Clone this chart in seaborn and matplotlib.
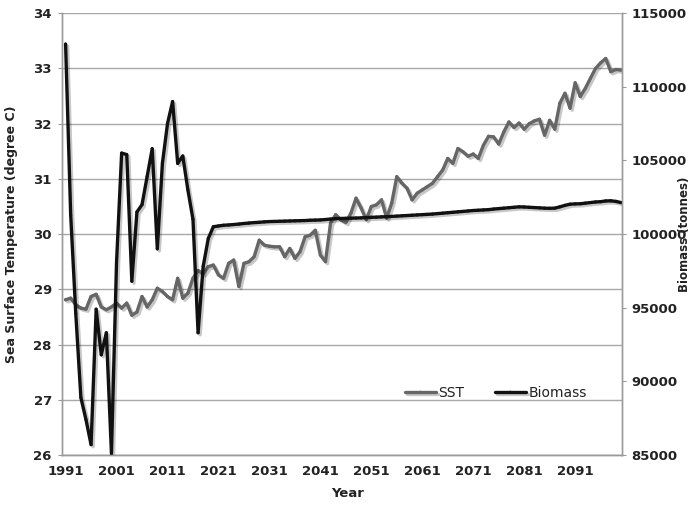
import numpy as np
import pandas as pd
import matplotlib
matplotlib.use("Agg")
import matplotlib.pyplot as plt
import matplotlib.patheffects as pe
from matplotlib.ticker import MultipleLocator, FixedLocator
import seaborn as sns

years = list(range(1991, 2101))

sst = [
    28.81, 28.84, 28.72, 28.66, 28.64, 28.87, 28.91, 28.68, 28.63, 28.68,
    28.75, 28.66, 28.75, 28.53, 28.59, 28.87, 28.68, 28.81, 29.02, 28.96,
    28.87, 28.81, 29.20, 28.84, 28.93, 29.20, 29.34, 29.28, 29.41, 29.44,
    29.26, 29.20, 29.47, 29.53, 29.05, 29.47, 29.50, 29.59, 29.89, 29.80,
    29.78, 29.77, 29.77, 29.59, 29.74, 29.56, 29.68, 29.95, 29.98, 30.07,
    29.62, 29.50, 30.20, 30.35, 30.26, 30.21, 30.38, 30.65, 30.47, 30.26,
    30.50, 30.53, 30.62, 30.29, 30.56, 31.04, 30.92, 30.83, 30.62, 30.74,
    30.80, 30.86, 30.92, 31.04, 31.16, 31.37, 31.28, 31.55, 31.49, 31.41,
    31.45, 31.37, 31.61, 31.77, 31.76, 31.63, 31.85, 32.03, 31.93, 32.01,
    31.90, 32.00, 32.05, 32.08, 31.79, 32.06, 31.90, 32.37, 32.55, 32.28,
    32.74, 32.49, 32.64, 32.82, 33.00, 33.10, 33.18, 32.94, 32.98, 32.97,
]

biomass = [
    112900, 101300, 94600, 88900, 87400, 85700, 94900, 91800, 93300, 85100,
    98100, 105500, 105400, 96800, 101500, 102000, 103900, 105800, 99000, 104800,
    107500, 109000, 104800, 105300, 103000, 101000, 93300, 97800, 99700, 100500,
    100550, 100600, 100620, 100650, 100680, 100720, 100750, 100780, 100800, 100830,
    100850, 100860, 100870, 100880, 100890, 100900, 100910, 100920, 100940, 100950,
    100960, 100990, 101020, 101050, 101060, 101070, 101080, 101090, 101100, 101120,
    101140, 101150, 101170, 101180, 101200, 101220, 101240, 101260, 101280, 101300,
    101320, 101340, 101360, 101390, 101420, 101450, 101480, 101510, 101540, 101570,
    101600, 101620, 101640, 101660, 101700, 101730, 101760, 101790, 101820, 101850,
    101840, 101820, 101800, 101780, 101760, 101750, 101760, 101850, 101950, 102030,
    102050, 102060, 102100, 102140, 102180, 102200, 102250, 102260, 102220, 102140,
]

year_ticks = list(range(1991, 2092, 10))
sst_ticks = list(range(26, 35))
bio_ticks = list(range(85000, 115001, 5000))

df = pd.DataFrame({"Year": years, "SST": sst, "Biomass": biomass})

sns.set_style("white")
plt.rcParams["font.family"] = ["DejaVu Sans"]
plt.rcParams["font.weight"] = "bold"

fig = plt.figure(figsize=(6.95, 5.07), dpi=100)
ax = fig.add_axes([0.0885, 0.1026, 0.8065, 0.8714])
ax2 = ax.twinx()

shadow = [pe.SimpleLineShadow(offset=(1.5, -1.5), alpha=0.22, shadow_color="black"),
          pe.Normal()]

sns.lineplot(data=df, x="Year", y="SST", ax=ax, color="#666666", linewidth=2.4,
             marker="o", markersize=2.2, markeredgewidth=0, label="SST",
             legend=False, path_effects=shadow)
sns.lineplot(data=df, x="Year", y="Biomass", ax=ax2, color="#111111", linewidth=2.4,
             marker="o", markersize=2.2, markeredgewidth=0, label="Biomass",
             legend=False, path_effects=shadow)

ax.set_xlim(1990.2, 2100.2)
ax.set_ylim(26, 34)
ax2.set_ylim(85000, 115000)

ax.xaxis.set_major_locator(FixedLocator(year_ticks))
ax.xaxis.set_minor_locator(MultipleLocator(1))
ax.set_yticks(sst_ticks)
ax2.set_yticks(bio_ticks)

ax.grid(axis="y", color="#a8a8a8", linewidth=1.0)
ax.grid(axis="x", visible=False)
ax2.grid(False)
ax.set_axisbelow(True)

for a in (ax, ax2):
    a.spines["top"].set_visible(False)
    for side in ("left", "right", "bottom"):
        a.spines[side].set_color("#9a9a9a")
        a.spines[side].set_linewidth(1.0)

ax.tick_params(axis="x", which="major", direction="out", length=4, color="#9a9a9a",
               labelsize=9.5, pad=3)
ax.tick_params(axis="x", which="minor", direction="out", length=3, color="#9a9a9a")
ax.tick_params(axis="y", direction="out", length=3, color="#9a9a9a", labelsize=9.5, pad=4)
ax2.tick_params(axis="y", direction="out", length=3, color="#9a9a9a", labelsize=9.5, pad=4)

for lab in ax.get_xticklabels() + ax.get_yticklabels() + ax2.get_yticklabels():
    lab.set_fontweight("bold")
    lab.set_color("#222222")

ax.set_xlabel("Year", fontsize=9.5, fontweight="bold", color="#222222")
ax.xaxis.set_label_coords(0.51, -0.072)
ax.set_ylabel("Sea Surface Temperature (degree C)", fontsize=9, fontweight="bold",
              color="#222222")
ax.yaxis.set_label_coords(-0.078, 0.5)
ax2.set_ylabel("Biomass (tonnes)", fontsize=8.5, fontweight="bold", color="#222222")
ax2.yaxis.set_label_coords(1.1, 0.5)

h1, l1 = ax.get_legend_handles_labels()
h2, l2 = ax2.get_legend_handles_labels()
leg = ax2.legend(h1 + h2, l1 + l2, loc="center", bbox_to_anchor=(0.775, 0.14),
                 ncol=2, frameon=False, fontsize=10, handlelength=2.2,
                 columnspacing=2.2, handletextpad=0.2)
for t in leg.get_texts():
    t.set_fontweight("normal")
    t.set_color("#222222")

fig.savefig("out.png", dpi=100)
